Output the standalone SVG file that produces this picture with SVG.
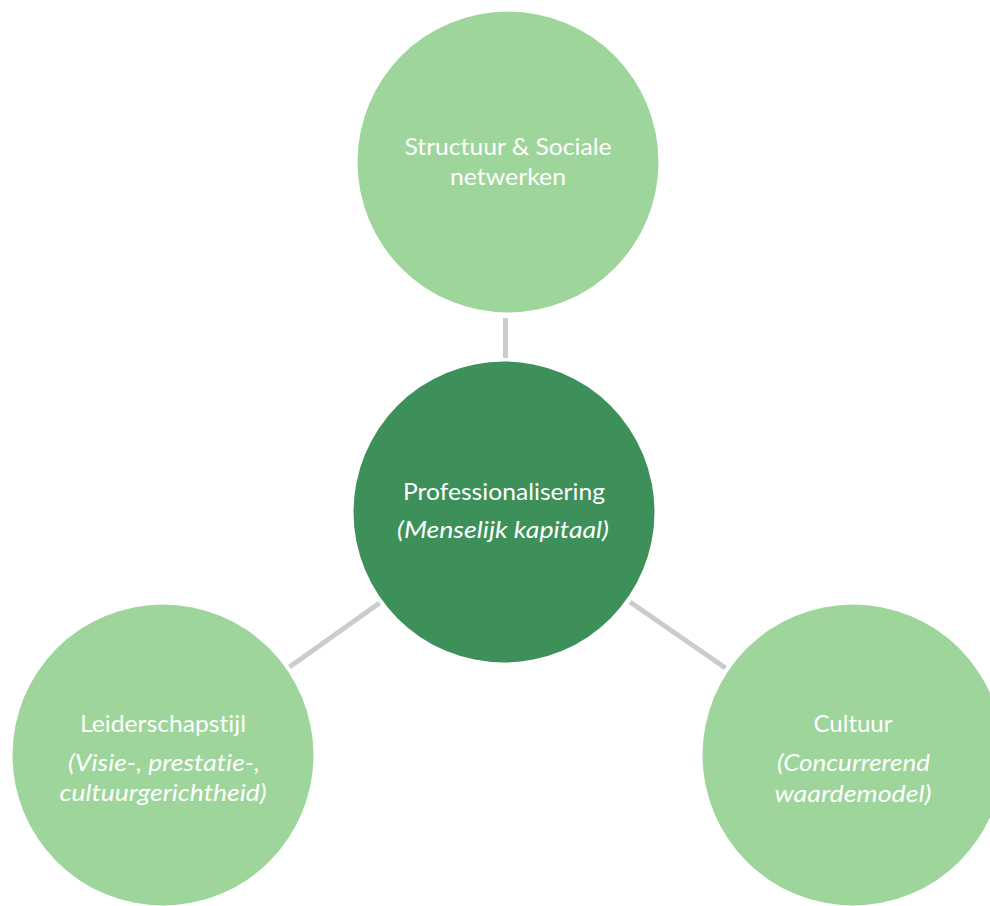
<svg xmlns="http://www.w3.org/2000/svg" width="990" height="906" viewBox="0 0 990 906">
<style>
.light{fill:#9DD59B}
.dark{fill:#3D905A}
.conn{stroke:#CCCCCC;stroke-width:5;fill:none}
text{font-family:Lato,"Open Sans","Liberation Sans",sans-serif;font-size:24px;fill:#FFFFFF;text-anchor:middle;font-variant-ligatures:none;font-feature-settings:"liga" 0,"dlig" 0}
.it{font-style:italic}
</style>
<rect width="990" height="906" fill="#FFFFFF"/>
<g id="connectors">
<line class="conn" x1="505.5" y1="318" x2="505.5" y2="358"/>
<line class="conn" x1="289.5" y1="667" x2="379.5" y2="603"/>
<line class="conn" x1="630" y1="602" x2="725.5" y2="668"/>
</g>
<g id="node-structuur">
<circle class="light" cx="508" cy="162" r="150.5"/>
<text x="508" y="155" textLength="207" lengthAdjust="spacingAndGlyphs">Structuur &amp; Sociale</text>
<text x="508" y="185" textLength="116" lengthAdjust="spacingAndGlyphs">netwerken</text>
</g>
<g id="node-professionalisering">
<circle class="dark" cx="504" cy="512" r="150.5"/>
<text x="504" y="500" textLength="202" lengthAdjust="spacingAndGlyphs">Professionalisering</text>
<text class="it" x="503" y="538" textLength="212" lengthAdjust="spacingAndGlyphs">(Menselijk kapitaal)</text>
</g>
<g id="node-leiderschapstijl">
<circle class="light" cx="163" cy="755" r="150.5"/>
<text x="163" y="732" textLength="166" lengthAdjust="spacingAndGlyphs">Leiderschapstijl</text>
<text class="it" x="164" y="771" textLength="192" lengthAdjust="spacingAndGlyphs">(Visie-, prestatie-,</text>
<text class="it" x="163" y="801" textLength="207" lengthAdjust="spacingAndGlyphs">cultuurgerichtheid)</text>
</g>
<g id="node-cultuur">
<circle class="light" cx="853" cy="755" r="150.5"/>
<text x="853" y="732" textLength="79" lengthAdjust="spacingAndGlyphs">Cultuur</text>
<text class="it" x="853.5" y="771" textLength="153" lengthAdjust="spacingAndGlyphs">(Concurrerend</text>
<text class="it" x="853" y="802" textLength="157" lengthAdjust="spacingAndGlyphs">waardemodel)</text>
</g>
</svg>
